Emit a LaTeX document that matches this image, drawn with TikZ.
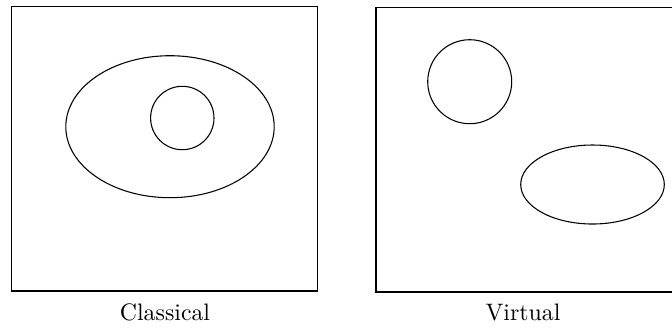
\documentclass[tikz,border=0pt]{standalone}
\begin{document}
\begin{tikzpicture}[x=0.42pt,y=-0.42pt,
  outline/.style={draw=black,line width=0.45pt},
  caption/.style={anchor=base,inner sep=0pt,font=\fontsize{10}{12}\selectfont}]
  \useasboundingbox (0,0) rectangle (672,327);
  \clip (0,0) rectangle (672,327);

  % classical frame: a region nested inside another
  \draw[outline] (11.7,6.3) rectangle (317.3,291);
  \draw[outline] (170,126.7) ellipse [x radius=104.2, y radius=71];
  \draw[outline] (182.3,118) circle [radius=31.7];
  \node[caption] (cl) at (165,320) {Classical};

  % virtual frame: two separate regions
  \draw[outline] (376,7.3) rectangle (684,292);
  \draw[outline] (469.7,81.7) circle [radius=42];
  \draw[outline] (592.5,184.5) ellipse [x radius=71.8, y radius=39.5];
  \node[caption] (vi) at (523,320) {Virtual};
\end{tikzpicture}
\end{document}
